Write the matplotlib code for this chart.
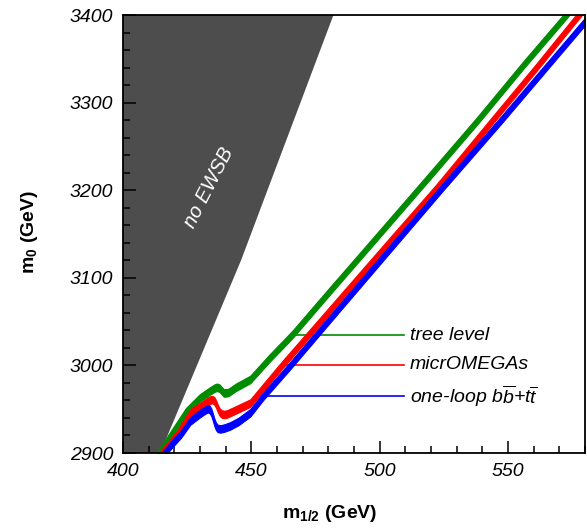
import matplotlib
matplotlib.use("Agg")
import matplotlib.pyplot as plt
import numpy as np
from matplotlib.ticker import MultipleLocator

plt.rcParams["font.family"] = ["Liberation Sans", "DejaVu Sans"]
plt.rcParams["mathtext.fontset"] = "custom"
plt.rcParams["mathtext.rm"] = "Liberation Sans"
plt.rcParams["mathtext.it"] = "Liberation Sans:italic"
plt.rcParams["mathtext.bf"] = "Liberation Sans:bold"

# --- data (m_1/2, m_0 in GeV) ---
# boundary of the region without electroweak symmetry breaking
ewsb_m12 = [414.5, 446.0, 482.0]
ewsb_m0 = [2900.0, 3120.0, 3400.0]

# centre of the relic-density band for each calculation
tree_m12 = [413.5, 419.0, 424.5, 430.0, 434.0, 435.6, 436.6, 437.6, 438.5, 439.3,
            441.0, 444.0, 449.6, 457.0, 465.9, 480.0, 497.8, 520.0, 538.2, 556.0,
            572.7, 576.0]
tree_m0 = [2898.0, 2922.5, 2947.0, 2963.0, 2971.0, 2974.0, 2975.0, 2974.0, 2971.0, 2968.5,
           2969.0, 2975.0, 2984.0, 3008.0, 3035.0, 3083.0, 3143.0, 3218.0, 3280.0, 3343.0,
           3400.0, 3412.0]

micro_m12 = [414.5, 421.0, 426.3, 430.0, 433.0, 434.0, 434.8, 435.6, 436.3, 437.0,
             437.7, 438.5, 439.5, 440.5, 443.1, 449.6, 455.0, 462.0, 480.0, 501.0,
             522.0, 544.0, 561.0, 577.6, 581.0]
micro_m0 = [2898.0, 2921.0, 2946.0, 2953.0, 2959.0, 2960.5, 2961.0, 2959.5, 2955.5, 2950.5,
            2946.5, 2944.5, 2944.0, 2944.5, 2948.0, 2957.0, 2976.0, 3000.5, 3061.0, 3131.7,
            3202.0, 3280.0, 3340.0, 3400.0, 3412.0]

loop_m12 = [415.5, 419.0, 422.7, 426.2, 430.0, 432.0, 433.0, 433.7, 434.4, 435.0,
            435.6, 436.2, 436.9, 438.0, 439.5, 441.8, 445.0, 449.6, 454.7, 465.2,
            485.0, 503.6, 525.0, 547.3, 565.0, 581.0]
loop_m0 = [2898.0, 2910.0, 2922.0, 2936.5, 2945.0, 2949.0, 2950.5, 2950.0, 2946.5, 2941.0,
           2935.0, 2930.5, 2928.0, 2927.5, 2928.5, 2931.0, 2936.0, 2946.0, 2965.0, 3000.0,
           3068.0, 3131.7, 3205.0, 3280.0, 3341.0, 3396.0]

band_halfwidth = 4.3

series_labels = ["tree level", "micrOMEGAs", r"one-loop $b\overline{b}$+$t\overline{t}$"]
series_colors = ["#008c00", "#ff0000", "#0000ff"]
# where each label's leader line meets its band
label_m0 = [3034.7, 3000.5, 2965.0]
leader_start = [465.9, 462.0, 454.7]

fig = plt.figure(figsize=(5.87, 5.29), dpi=100)
ax = fig.add_axes([123 / 587, 1 - 453 / 529, 462 / 587, 438 / 529])

ax.set_xlim(400, 580)
ax.set_ylim(2900, 3400)

# no-EWSB region
poly_x = [400.0] + ewsb_m12 + [400.0]
poly_y = [2900.0] + ewsb_m0 + [3400.0]
ax.fill(poly_x, poly_y, color="#4d4d4d", lw=0, zorder=1)
ax.text(433.6, 3203, "no EWSB", color="white", fontsize=14.5, style="italic",
        rotation=63, ha="center", va="center", zorder=2)

for mx, my, col in [(tree_m12, tree_m0, series_colors[0]),
                    (micro_m12, micro_m0, series_colors[1]),
                    (loop_m12, loop_m0, series_colors[2])]:
    mx = np.asarray(mx)
    my = np.asarray(my)
    ax.fill_between(mx, my - band_halfwidth, my + band_halfwidth, color=col,
                    lw=0.8, edgecolor=col, zorder=3)

for lab, col, y0, x0 in zip(series_labels, series_colors, label_m0, leader_start):
    ax.plot([x0, 509.4], [y0, y0], color=col, lw=1.2, zorder=2)
    ax.text(511.7, y0, lab, fontsize=14, style="italic", ha="left", va="center",
            color="black")

ax.xaxis.set_major_locator(MultipleLocator(50))
ax.xaxis.set_minor_locator(MultipleLocator(10))
ax.yaxis.set_major_locator(MultipleLocator(100))
ax.yaxis.set_minor_locator(MultipleLocator(20))
ax.tick_params(which="both", direction="in", top=False, right=False, width=1.1)
ax.tick_params(which="major", length=9, labelsize=14)
ax.tick_params(which="minor", length=5)
ax.tick_params(axis="x", pad=7)
ax.tick_params(axis="y", pad=7)
for lbl in ax.get_xticklabels() + ax.get_yticklabels():
    lbl.set_style("italic")
for s in ax.spines.values():
    s.set_linewidth(1.3)
    s.set_zorder(5)

fig.text(330 / 587, 1 - 514 / 529, r"$\mathbf{m}_{\mathbf{1/2}}$ (GeV)", fontsize=14,
         fontweight="bold", ha="center", va="center")
fig.text(30 / 587, 1 - 232 / 529, r"$\mathbf{m}_{\mathbf{0}}$ (GeV)", fontsize=14,
         fontweight="bold", ha="center", va="center", rotation=90)

fig.savefig("out.png", dpi=100)
